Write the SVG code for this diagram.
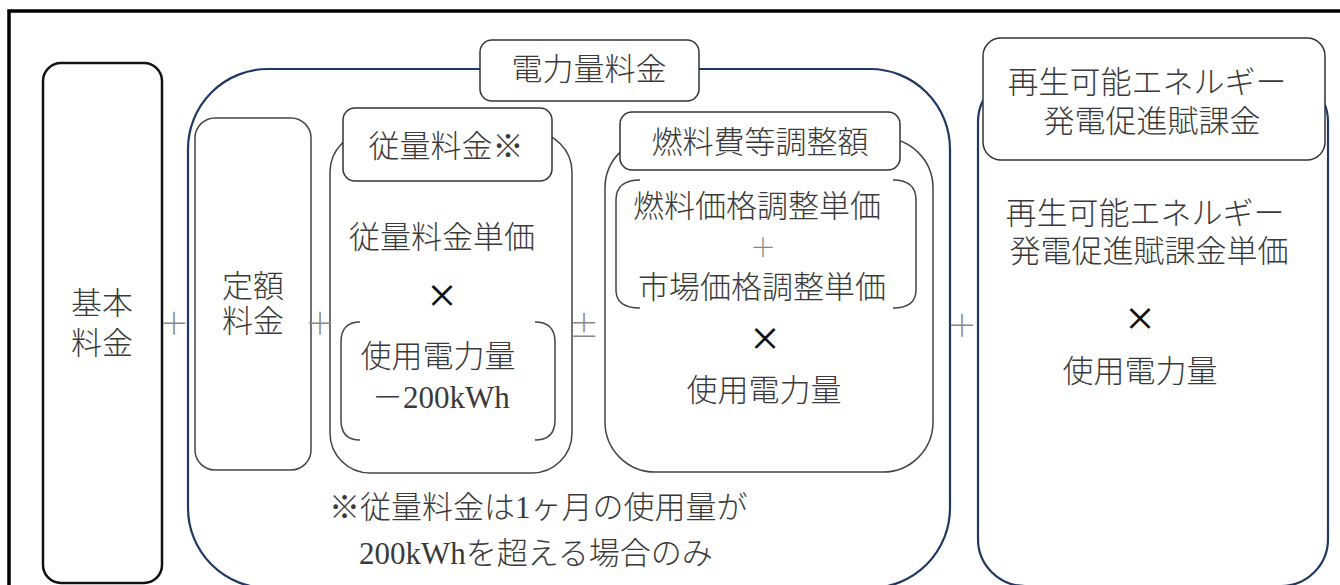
<svg xmlns="http://www.w3.org/2000/svg" width="1340" height="585" viewBox="0 0 1340 585">
<style>
  .t { font-family: "Liberation Serif", "Noto Sans CJK JP", serif; font-size: 31px; font-weight: 300; fill: #3a3a3a; text-anchor: middle; }
  .tl { font-family: "Liberation Serif", "Noto Sans CJK JP", serif; font-size: 31px; font-weight: 300; fill: #3a3a3a; text-anchor: start; }
  .op { font-family: "Noto Sans CJK JP", sans-serif; font-size: 30px; font-weight: 300; fill: #888; text-anchor: middle; }
  .x { font-family: "Noto Sans CJK JP", sans-serif; font-size: 32px; font-weight: 500; fill: #111; text-anchor: middle; }
  .navy { fill: none; stroke: #1f3864; stroke-width: 2.2; }
  .box { fill: none; stroke: #444; stroke-width: 1.5; }
  .hdr { fill: #fff; stroke: #333; stroke-width: 1.5; }
  .br { fill: none; stroke: #444; stroke-width: 1.5; }
</style>
<rect width="1340" height="585" fill="#fff"/>
<rect x="9" y="11" width="1345" height="600" fill="none" stroke="#000" stroke-width="3.5"/>

<g id="kihon">
  <rect x="43" y="63" width="119" height="520" rx="18" fill="none" stroke="#111" stroke-width="2.5"/>
  <text class="t" x="102" y="314">基本</text>
  <text class="t" x="102" y="354">料金</text>
</g>

<g id="denryoku">
  <rect class="navy" x="188" y="69" width="762" height="519" rx="80"/>
  <rect class="hdr" x="480" y="40" width="219" height="61" rx="12"/>
  <text class="t" x="589" y="80">電力量料金</text>
</g>

<g id="teigaku">
  <rect class="box" x="195" y="118" width="116" height="352" rx="20"/>
  <text class="t" x="253" y="297">定額</text>
  <text class="t" x="253" y="332">料金</text>
</g>

<g id="juryo">
  <rect class="box" x="330" y="132" width="242" height="341" rx="40"/>
  <rect class="hdr" x="343" y="108" width="209" height="73" rx="12"/>
  <text class="t" x="446" y="157">従量料金※</text>
  <text class="t" x="442" y="248">従量料金単価</text>
  <text class="x" x="442" y="307">×</text>
  <path class="br" d="M360,322 Q341,322 341,342 V420 Q341,440 360,440"/>
  <path class="br" d="M535,322 Q555,322 555,342 V420 Q555,440 535,440"/>
  <text class="t" x="438" y="367">使用電力量</text>
  <text class="t" x="441" y="408">－200kWh</text>
</g>

<g id="nenryo">
  <rect class="box" x="605" y="138" width="328" height="334" rx="50"/>
  <rect class="hdr" x="620" y="112" width="280" height="58" rx="12"/>
  <text class="t" x="760" y="153">燃料費等調整額</text>
  <path class="br" d="M640,180 Q616,180 616,200 V290 Q616,308 640,308"/>
  <path class="br" d="M893,180 Q916,180 916,200 V290 Q916,308 893,308"/>
  <text class="t" x="757" y="217">燃料価格調整単価</text>
  <text class="op" x="763" y="257" style="font-size:26px">＋</text>
  <text class="t" x="762" y="298">市場価格調整単価</text>
  <text class="x" x="765" y="350">×</text>
  <text class="t" x="764" y="401">使用電力量</text>
</g>

<g id="note">
  <text class="tl" x="329" y="518">※従量料金は1ヶ月の使用量が</text>
  <text class="tl" x="359" y="564">200kWhを超える場合のみ</text>
</g>

<g id="saisei">
  <rect class="navy" x="978" y="75" width="350" height="511" rx="47"/>
  <rect class="hdr" x="983" y="38" width="342" height="122" rx="18"/>
  <text class="t" x="1147" y="93">再生可能エネルギー</text>
  <text class="t" x="1152" y="132">発電促進賦課金</text>
  <text class="t" x="1145" y="224">再生可能エネルギー</text>
  <text class="t" x="1149" y="262">発電促進賦課金単価</text>
  <text class="x" x="1140" y="330">×</text>
  <text class="t" x="1140" y="382">使用電力量</text>
</g>

<g id="connectors">
  <text class="op" x="174" y="334">＋</text>
  <text class="op" x="320" y="334">＋</text>
  <text class="op" x="584" y="337">±</text>
  <text class="op" x="962" y="336">＋</text>
</g>
</svg>
